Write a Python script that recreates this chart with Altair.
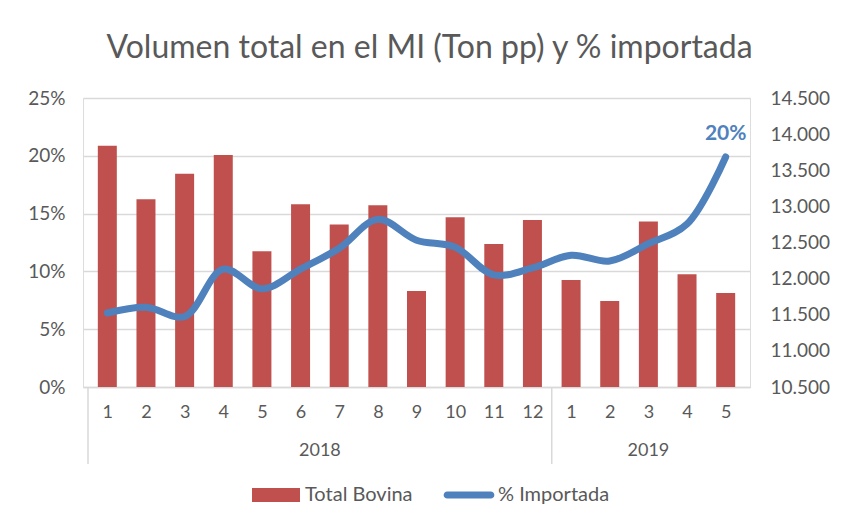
import altair as alt
import pandas as pd

# ---- data ----
months = [1, 2, 3, 4, 5, 6, 7, 8, 9, 10, 11, 12, 1, 2, 3, 4, 5]
years = ["2018"] * 12 + ["2019"] * 5
total_bovina = [13840, 13100, 13450, 13710, 12380, 13030, 12750, 13015, 11830,
                12850, 12480, 12810, 11980, 11690, 12790, 12060, 11800]
pct_importada = [0.064, 0.069, 0.061, 0.102, 0.085, 0.102, 0.120, 0.145, 0.127,
                 0.121, 0.097, 0.103, 0.114, 0.109, 0.124, 0.141, 0.199]
series_names = ["Total Bovina", "% Importada"]
pct_ticks = [0, 0.05, 0.10, 0.15, 0.20, 0.25]
ton_ticks = [10500, 11000, 11500, 12000, 12500, 13000, 13500, 14000, 14500]
title_text = "Volumen total en el MI (Ton pp) y % importada"

idx = list(range(len(months)))
df = pd.DataFrame({"idx": idx, "mes": months, "anio": years,
                   "total": total_bovina, "pct": pct_importada})
sep_df = pd.DataFrame({"pos": [-0.5] + [i - 0.5 for i in range(1, len(years)) if years[i] != years[i - 1]]})
year_df = df.groupby("anio", as_index=False)["idx"].mean()
leg_df = pd.DataFrame({"serie": series_names})

W, H = 667, 289
GRAY = "#595959"
GRID = "#D9D9D9"
FONT = "Lato"
RED = "#C0504D"
BLUE = "#4F81BD"

month_expr = "[" + ",".join(str(m) for m in months) + "][datum.value]"

x_enc = alt.X(
    "idx:Q",
    scale=alt.Scale(domain=[-0.5, len(months) - 0.5], nice=False, zero=False),
    axis=alt.Axis(values=idx, labelExpr=month_expr, title=None, grid=False, ticks=False,
                  domainColor=GRID, domainWidth=1.5, labelFontSize=18, labelColor=GRAY,
                  labelFont=FONT, labelPadding=16),
)

bars = alt.Chart(df).mark_bar(color=RED, size=19).encode(
    x=x_enc,
    y=alt.Y("total:Q",
            scale=alt.Scale(domain=[ton_ticks[0], ton_ticks[-1]], nice=False, zero=False),
            axis=alt.Axis(orient="right", values=ton_ticks,
                          labelExpr="replace(format(datum.value, ','), ',', '.')",
                          title=None, grid=False, ticks=False, domain=False,
                          labelFontSize=19, labelColor=GRAY, labelFont=FONT, labelPadding=20)),
    y2=alt.Y2(datum=ton_ticks[0]),
)

y_pct = alt.Y("pct:Q",
              scale=alt.Scale(domain=[pct_ticks[0], pct_ticks[-1]], nice=False),
              axis=alt.Axis(orient="left", values=pct_ticks, format=".0%", title=None,
                            grid=True, gridColor=GRID, gridWidth=1.5, ticks=False, domain=False,
                            labelFontSize=19, labelColor=GRAY, labelFont=FONT, labelPadding=18))

line = alt.Chart(df).mark_line(color=BLUE, strokeWidth=7, interpolate="catmull-rom",
                               strokeCap="round", strokeJoin="round").encode(x=x_enc, y=y_pct)

last_label = alt.Chart(df).transform_filter(alt.datum.idx == len(months) - 1).mark_text(
    color=BLUE, fontWeight="bold", fontSize=21, font=FONT, dy=-23, dx=0
).encode(x=x_enc, y=y_pct, text=alt.Text("pct:Q", format=".0%"))

seps = alt.Chart(sep_df).mark_rule(color=GRID, strokeWidth=1.5).encode(
    x=alt.X("pos:Q"), y=alt.value(H), y2=alt.value(H + 77))

year_labels = alt.Chart(year_df).mark_text(
    color=GRAY, fontSize=18, font=FONT, baseline="middle"
).encode(x=alt.X("idx:Q"), y=alt.value(H + 64), text="anio:N")

rect_path = "M-1.6,-0.47H1.6V0.47H-1.6Z"
line_path = "M-1.45,-0.24H1.45A0.24,0.24,0,0,1,1.45,0.24H-1.45A0.24,0.24,0,0,1,-1.45,-0.24Z"
leg = alt.Legend(title=None, orient="none", legendX=178, legendY=382, direction="horizontal",
                 symbolSize=900, symbolOpacity=1, symbolStrokeWidth=0, labelFontSize=20,
                 labelColor=GRAY, labelFont=FONT, labelOffset=14, columnPadding=30)
legend_layer = alt.Chart(leg_df).mark_point(filled=True, opacity=0, size=900).encode(
    color=alt.Color("serie:N", scale=alt.Scale(domain=series_names, range=[RED, BLUE]), legend=leg),
    shape=alt.Shape("serie:N", scale=alt.Scale(domain=series_names, range=[rect_path, line_path]), legend=leg),
)

left = alt.layer(line, last_label)
chart = alt.layer(bars, left, seps, year_labels, legend_layer).resolve_scale(
    y="independent"
).properties(
    width=W, height=H,
    title=alt.TitleParams(title_text, fontSize=32, color=GRAY, font=FONT, fontWeight="normal",
                          anchor="middle", dx=13, dy=3, offset=2, baseline="alphabetic"),
    autosize=alt.AutoSizeParams(type="none"),
    padding={"left": 75, "top": 90, "right": 83, "bottom": 130},
).configure_view(stroke=None).configure(background="white")

chart.save("out.html", embed_options={"renderer": "svg", "actions": False})
